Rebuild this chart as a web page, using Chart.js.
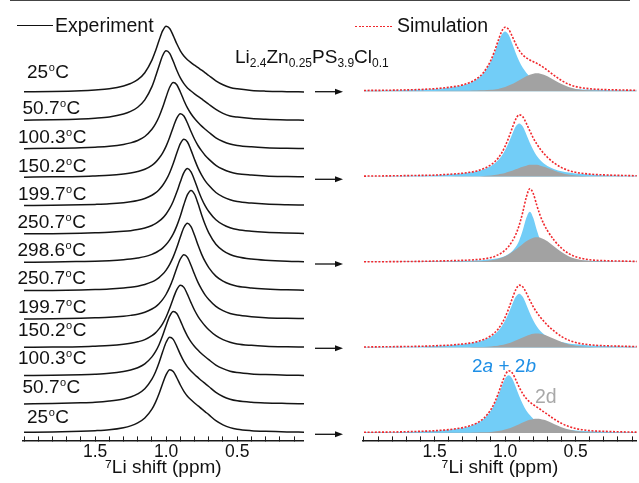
<!DOCTYPE html>
<html>
<head>
<meta charset="utf-8">
<script src="https://cdn.jsdelivr.net/npm/chart.js@4.4.1/dist/chart.umd.min.js"></script>
<style>
  body { margin: 0; width: 639px; height: 483px; overflow: hidden; position: relative; background: #fff;
         font-family: "Liberation Sans", Arial, sans-serif; color: #111; }
  canvas { position: absolute; top: 0; }
  .t { position: absolute; white-space: nowrap; line-height: 1; font-size: 19px; }
  .deg { font-size: 11px; position: relative; top: -7px; margin: 0 0.5px; }
  .sub { font-size: 12px; position: relative; top: 3.5px; }
</style>
</head>
<body>
<canvas id="expChart" width="287" height="483" style="left:17px"></canvas>
<canvas id="simChart" width="282" height="483" style="left:357px"></canvas>

<div style="position:absolute;left:10px;top:0;width:620px;height:1px;background:#444"></div>

<!-- legends -->
<div style="position:absolute;left:17px;top:24.5px;width:36px;height:1.3px;background:#111"></div>
<div class="t" style="left:55px;top:15.8px;font-size:19.5px">Experiment</div>
<div style="position:absolute;left:355px;top:25.5px;width:38px;height:1.6px;background:repeating-linear-gradient(90deg,#f0282d 0 2px,transparent 2px 3.5px)"></div>
<div class="t" style="left:397px;top:15.8px;font-size:19.5px">Simulation</div>

<div class="t" style="left:235px;top:47.2px">Li<span class="sub">2.4</span>Zn<span class="sub">0.25</span>PS<span class="sub">3.9</span>Cl<span class="sub">0.1</span></div>

<div class="t" style="left:472px;top:355.6px;color:#1e8fe6">2<i>a</i> + 2<i>b</i></div>
<div class="t" style="left:535px;top:386.8px;font-size:19.5px;color:#a8a8a8">2d</div>

<div id="temps"></div>

<svg width="639" height="483" style="position:absolute;left:0;top:0" id="arrows"></svg>

<script>
// chemical shift grid (ppm) shared by every trace
const ppm = [2.0, 1.8, 1.6, 1.5, 1.4, 1.3, 1.25, 1.2, 1.15, 1.1, 1.075, 1.05, 1.025, 1.0, 0.975,
             0.95, 0.925, 0.9, 0.875, 0.85, 0.825, 0.8, 0.775, 0.75, 0.725, 0.7, 0.65, 0.6, 0.55, 0.5,
             0.4, 0.3, 0.15, 0.03];

// experiment, top to bottom
const tempLabels = ['25', '50.7', '100.3', '150.2', '199.7', '250.7', '298.6',
                    '250.7', '199.7', '150.2', '100.3', '50.7', '25'];
const heat25  = [0.7,1.0,1.8,2.6,3.8,6.5,9.0,12.9,19.9,32.5,41.7,52.2,61.8,66.6,64.3,57.1,48.9,41.9,36.7,32.9,30.0,27.4,24.9,22.4,19.8,17.1,11.8,7.8,5.1,3.7,2.1,1.4,0.9,0.6];
const heat50  = [0.7,1.1,1.9,2.7,4.0,6.9,9.5,13.7,21.1,34.4,44.2,55.2,65.4,70.3,67.7,59.8,50.9,43.1,37.4,33.1,30.0,27.2,24.6,22.0,19.4,16.7,11.6,7.6,5.0,3.8,2.3,1.6,1.0,0.7];
const heat100 = [0.6,0.9,1.5,2.1,3.0,4.8,6.4,8.8,12.8,20.0,25.4,32.6,41.8,52.5,62.2,67.0,64.8,57.5,49.0,41.5,35.6,30.8,26.8,23.2,20.1,17.1,11.5,7.8,5.2,3.8,2.4,1.6,1.0,0.8];
const heat150 = [0.5,0.8,1.2,1.7,2.3,3.6,4.6,6.1,8.4,12.4,15.3,19.4,24.6,31.6,40.5,50.6,59.7,64.2,61.9,54.8,46.3,38.5,32.0,26.8,22.3,18.6,12.4,8.4,5.7,4.0,2.6,1.7,1.1,0.8];
const heat200 = [0.5,0.7,1.2,1.6,2.2,3.3,4.2,5.5,7.5,10.8,13.1,16.3,20.5,26.1,33.4,42.7,53.2,62.6,67.0,64.2,56.1,46.7,38.0,31.0,25.2,20.7,13.5,9.1,6.2,4.5,2.9,1.9,1.2,0.9];
const heat250 = [0.5,0.7,1.1,1.5,2.0,3.0,3.7,4.8,6.4,8.9,10.8,13.2,16.3,20.5,26.0,33.3,42.4,52.7,61.9,66.0,62.8,54.4,44.6,35.8,28.6,22.9,14.6,9.7,6.6,4.8,3.1,2.1,1.3,0.9];
const peak299 = [0.5,0.7,1.2,1.5,2.1,3.0,3.7,4.7,6.1,8.4,10.0,12.1,14.7,18.2,22.9,28.9,37.0,46.9,58.4,68.3,72.6,68.7,59.1,47.9,38.1,30.0,18.6,12.2,8.3,6.0,3.7,2.5,1.5,1.1];
const cool250 = [0.5,0.7,1.1,1.5,2.1,3.1,3.8,4.9,6.6,9.2,11.1,13.6,16.8,21.1,26.8,34.3,43.7,54.3,63.8,68.0,64.7,56.0,45.9,36.9,29.5,23.6,15.0,10.0,6.8,4.9,3.2,2.2,1.3,0.9];
const cool200 = [0.5,0.7,1.2,1.6,2.1,3.2,4.1,5.3,7.3,10.5,12.7,15.8,19.9,25.3,32.4,41.4,51.6,60.7,65.0,62.3,54.4,45.3,36.9,30.1,24.4,20.1,13.1,8.8,6.0,4.4,2.8,1.8,1.2,0.9];
const cool150 = [0.5,0.8,1.2,1.7,2.3,3.5,4.5,6.0,8.2,12.2,15.0,19.0,24.1,31.0,39.7,49.6,58.5,62.9,60.7,53.7,45.4,37.7,31.4,26.3,21.9,18.2,12.2,8.2,5.6,3.9,2.5,1.7,1.1,0.8];
const cool100 = [0.6,0.9,1.5,2.0,2.9,4.7,6.2,8.5,12.4,19.4,24.6,31.6,40.5,50.9,60.3,65.0,62.9,55.8,47.5,40.3,34.5,29.9,26.0,22.5,19.5,16.6,11.2,7.6,5.0,3.7,2.3,1.6,1.0,0.8];
const cool50  = [0.6,1.0,1.7,2.3,3.5,5.6,7.6,10.7,15.9,25.5,32.7,42.0,52.7,62.5,67.5,65.4,58.4,50.3,43.3,37.8,33.6,30.1,27.0,23.9,21.0,18.1,12.2,8.1,5.4,3.8,2.3,1.6,1.1,0.8];
const cool25  = [0.6,0.9,1.6,2.2,3.2,5.3,7.1,10.0,14.9,23.8,30.6,39.3,49.4,58.5,63.4,61.6,55.4,48.1,41.8,36.9,33.3,30.0,27.1,24.1,21.2,18.3,12.3,8.1,5.3,3.7,2.3,1.6,1.0,0.8];

// simulation components (2a+2b blue, 2d grey) for 25, 150.2, 298.6, 150.2, 25 C
const sim25hBlue  = [0.6,0.9,1.6,2.3,3.5,6.0,8.3,12.0,18.5,30.0,38.4,48.0,56.5,60.0,56.5,48.0,38.4,30.0,23.4,18.5,14.8,12.0,9.9,8.3,7.0,6.0,4.5,3.5,2.8,2.3,1.6,1.2,0.8,0.6];
const sim25hGray  = [0.1,0.1,0.1,0.2,0.3,0.3,0.4,0.6,0.8,1.3,1.7,2.3,3.2,4.2,5.6,7.2,9.0,11.0,13.0,15.0,16.5,17.6,18.0,17.6,16.5,15.0,11.0,7.2,4.2,2.3,0.8,0.4,0.3,0.2];
const sim150hBlue = [0.4,0.7,1.1,1.4,2.1,3.1,4.0,5.3,7.4,10.7,13.1,16.4,20.8,26.7,34.1,42.6,50.2,53.3,50.2,42.6,34.1,26.7,20.8,16.4,13.1,10.7,7.4,5.3,4.0,3.1,2.1,1.4,0.9,0.7];
const sim150hGray = [0.1,0.1,0.1,0.1,0.2,0.3,0.3,0.4,0.7,1.2,1.6,2.1,2.8,3.7,4.8,6.0,7.3,8.7,10.0,11.0,11.8,12.0,11.8,11.0,10.0,8.7,6.0,3.7,2.1,1.2,0.4,0.3,0.2,0.1];
const sim299Blue  = [0.2,0.3,0.5,0.7,0.9,1.2,1.4,1.7,2.1,2.7,3.2,3.9,4.8,6.1,8.0,10.8,15.0,21.7,31.8,44.1,50.6,44.1,31.8,21.7,15.0,10.8,6.1,3.9,2.7,2.0,1.2,0.8,0.5,0.3];
const sim299Gray  = [0.1,0.1,0.2,0.3,0.4,0.5,0.6,0.8,1.1,1.8,2.4,3.3,4.4,5.9,7.7,10.0,12.5,15.3,18.1,20.8,23.0,24.5,25.0,24.5,23.0,20.8,15.3,10.0,5.9,3.3,1.1,0.6,0.4,0.2];
const sim150cBlue = [0.4,0.7,1.1,1.5,2.1,3.2,4.1,5.4,7.5,10.8,13.3,16.6,21.1,27.0,34.6,43.2,50.8,54.0,50.8,43.2,34.6,27.0,21.1,16.6,13.3,10.8,7.5,5.4,4.1,3.2,2.1,1.5,1.0,0.7];
const sim150cGray = [0.1,0.1,0.1,0.2,0.2,0.3,0.3,0.4,0.6,1.0,1.4,1.8,2.5,3.3,4.3,5.6,7.0,8.6,10.1,11.6,12.9,13.7,14.0,13.7,12.9,11.6,8.6,5.6,3.3,1.8,0.6,0.3,0.2,0.1];
const sim25cBlue  = [0.6,0.8,1.5,2.0,3.1,5.0,6.8,9.6,14.3,22.6,29.0,37.1,46.4,54.6,58.0,54.6,46.4,37.1,29.0,22.6,17.9,14.3,11.6,9.6,8.0,6.8,5.0,3.9,3.1,2.5,1.7,1.3,0.8,0.6];
const sim25cGray  = [0.1,0.1,0.1,0.2,0.2,0.3,0.3,0.4,0.6,1.0,1.4,1.9,2.5,3.4,4.4,5.7,7.2,8.7,10.4,11.9,13.1,14.0,14.3,14.0,13.1,11.9,8.7,5.7,3.4,1.9,0.6,0.3,0.2,0.1];

const expTraces = [heat25, heat50, heat100, heat150, heat200, heat250, peak299,
                   cool250, cool200, cool150, cool100, cool50, cool25];
const simPanels = [[sim25hBlue, sim25hGray], [sim150hBlue, sim150hGray], [sim299Blue, sim299Gray],
                   [sim150cBlue, sim150cGray], [sim25cBlue, sim25cGray]];

const EXP_STEP = 28.47;   // vertical spacing of stacked spectra
const SIM_STEP = 85.75;

Chart.defaults.font.family = "'Liberation Sans', Arial, sans-serif";
Chart.defaults.color = '#111';

function pts(vals, base) {
  return vals.map((v, i) => ({x: ppm[i], y: v + base}));
}

function xAxis(min, max) {
  return {
    type: 'linear', reverse: true, min: min, max: max,
    border: {display: true, color: '#1a1a1a', width: 1.5},
    grid: {drawOnChartArea: false, drawTicks: true, tickLength: -4, color: '#1a1a1a', lineWidth: 1},
    ticks: {
      stepSize: 0.1, includeBounds: false, autoSkip: false, maxRotation: 0, padding: 7,
      color: '#111', font: {size: 17.5, lineHeight: 1},
      callback: v => { const t = Math.round(v * 10); return (t === 5 || t === 10 || t === 15) ? (t / 10).toFixed(1) : ''; }
    },
    title: {display: true, text: '\u2077Li shift (ppm)', color: '#111', font: {size: 19, lineHeight: 1.2},
            padding: {top: -11.7, bottom: 4}}
  };
}

function baseOpts(min, max) {
  return {
    responsive: false, animation: false, devicePixelRatio: 1,
    layout: {padding: 0},
    plugins: {legend: {display: false}, tooltip: {enabled: false}},
    elements: {point: {radius: 0}},
    scales: {x: xAxis(min, max), y: {display: false, min: -7.5, max: 434.5}}
  };
}

new Chart(document.getElementById('expChart'), {
  type: 'line',
  data: {
    datasets: expTraces.map((tr, i) => ({
      data: pts(tr, (expTraces.length - 1 - i) * EXP_STEP),
      borderColor: '#151515', borderWidth: 1.5, fill: false,
      cubicInterpolationMode: 'monotone'
    }))
  },
  options: baseOpts(0.03, 2.01)
});

const simSets = [];
simPanels.forEach(([blue, gray], k) => {
  const base = (simPanels.length - 1 - k) * SIM_STEP;
  const total = blue.map((v, i) => v + gray[i]);
  simSets.push({data: pts(total, base), borderColor: '#f0282d', borderWidth: 1.6, borderDash: [2, 1.6],
                fill: false, cubicInterpolationMode: 'monotone', order: 0});
  simSets.push({data: pts(gray, base), borderWidth: 0, backgroundColor: '#a2a2a2',
                fill: {value: base}, cubicInterpolationMode: 'monotone', order: 1});
  simSets.push({data: pts(blue, base), borderWidth: 0, backgroundColor: '#72cdf7',
                fill: {value: base}, cubicInterpolationMode: 'monotone', order: 2});
});

new Chart(document.getElementById('simChart'), {
  type: 'line',
  data: {datasets: simSets},
  options: baseOpts(0.067, 2.006)
});

// temperature labels
const tempX = [27, 22.5, 18, 18, 18, 17.5, 17.5, 17.5, 18, 18, 18, 22.5, 27];
const tempBase = [78.3, 114.3, 142.7, 171.7, 200, 227.7, 256, 284, 312.7, 336, 364.3, 393.3, 422.7];
const tempBox = document.getElementById('temps');
tempLabels.forEach((t, i) => {
  const d = document.createElement('div');
  d.className = 't';
  d.style.left = tempX[i] + 'px';
  d.style.top = (tempBase[i] - 16.1) + 'px';
  d.innerHTML = t + '<span class="deg">o</span>C';
  tempBox.appendChild(d);
});

// arrows between the panels
const arrowY = [91.7, 179.3, 264, 348.3, 434.3];
const svg = document.getElementById('arrows');
arrowY.forEach(y => {
  svg.insertAdjacentHTML('beforeend',
    `<line x1="315" y1="${y}" x2="337" y2="${y}" stroke="#111" stroke-width="1.3"/>` +
    `<polygon points="335,${y - 3} 343,${y} 335,${y + 3}" fill="#111"/>`);
});
</script>
</body>
</html>
